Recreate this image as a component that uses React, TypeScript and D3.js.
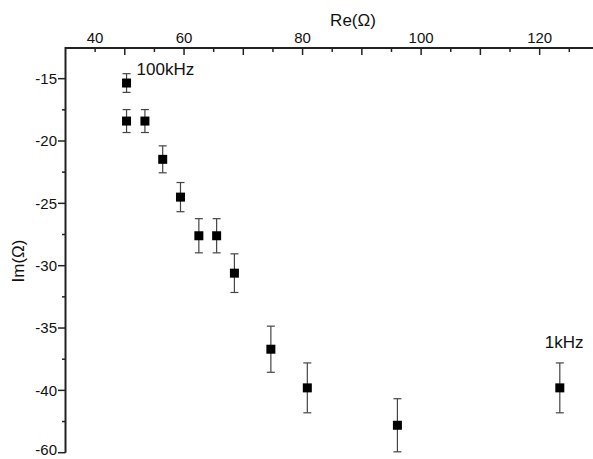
import React from "react";
import * as d3 from "d3";

const W = 593;
const H = 459;

// Data
const reValues = [50.3, 50.3, 53.4, 56.4, 59.4, 62.5, 65.5, 68.5, 74.65, 80.8, 96.0, 123.4];
const imValues = [-15.35, -18.4, -18.4, -21.47, -24.5, -27.6, -27.6, -30.6, -36.7, -39.8, -42.8, -39.8];
const imErrors = [0.75, 0.92, 0.92, 1.08, 1.17, 1.37, 1.37, 1.55, 1.85, 2.0, 2.13, 2.0];

// Tick labels as printed on the original figure
const xLabelValues = [45, 60, 80, 100, 120];
const xLabelTexts = ["40", "60", "80", "100", "120"];
const xMajorTicks = [50, 60, 70, 80, 90, 100, 110, 120];
const xMinorTicks = [45, 55, 65, 75, 85, 95, 105, 115, 125];
const yLabelValues = [-15, -20, -25, -30, -35, -40, -45];
const yLabelTexts = ["-15", "-20", "-25", "-30", "-35", "-40", "-60"];
const yMinorTicks = [-17.5, -22.5, -27.5, -32.5, -37.5, -42.5];

const FONT = "'Liberation Sans', Arial, sans-serif";

export default function App() {
  const x = d3.scaleLinear().domain([40, 129]).range([65.5, 593]);
  const y = d3.scaleLinear().domain([-45, -12.5]).range([452.7, 47.5]);
  const axisColor = "#222";
  const points = reValues.map((r, i) => ({ r, im: imValues[i], e: imErrors[i] }));
  const ms = 9;
  const cap = 4;
  const lastY = yLabelValues.length - 1;

  return (
    <svg
      width={W}
      height={H}
      style={{ position: "fixed", left: 0, top: 0, background: "#fff" }}
      fontFamily={FONT}
    >
      <rect width={W} height={H} fill="#fff" />
      {/* axis titles */}
      <text x={353} y={26} fontSize={17} textAnchor="middle" fill="#111">
        Re(Ω)
      </text>
      <text
        transform="translate(24,261) rotate(-90)"
        fontSize={17}
        textAnchor="middle"
        fill="#111"
      >
        Im(Ω)
      </text>

      {/* x axis (top) */}
      <line x1={x(40)} x2={W} y1={48} y2={48} stroke={axisColor} strokeWidth={2} />
      {xMajorTicks.map((t) => (
        <line key={"xM" + t} x1={x(t)} x2={x(t)} y1={48} y2={55} stroke={axisColor} strokeWidth={1.5} />
      ))}
      {xMinorTicks.map((t) => (
        <line key={"xm" + t} x1={x(t)} x2={x(t)} y1={48} y2={52} stroke={axisColor} strokeWidth={1.5} />
      ))}
      {xLabelValues.map((v, i) => (
        <text key={"xl" + v} x={x(v)} y={42.5} fontSize={15} textAnchor="middle" fill="#111">
          {xLabelTexts[i]}
        </text>
      ))}

      {/* y axis (left) */}
      <line x1={65.5} x2={65.5} y1={47} y2={y(-45)} stroke={axisColor} strokeWidth={2} />
      {yLabelValues.map((v, i) => (
        <g key={"yl" + v}>
          <line x1={58} x2={65.5} y1={y(v)} y2={y(v)} stroke={axisColor} strokeWidth={1.5} />
          <text
            x={57}
            y={i === lastY ? y(v) - 3 : y(v)}
            dy="0.35em"
            fontSize={15}
            textAnchor="end"
            fill="#111"
          >
            {yLabelTexts[i]}
          </text>
        </g>
      ))}
      {yMinorTicks.map((v) => (
        <line key={"ym" + v} x1={62} x2={65.5} y1={y(v)} y2={y(v)} stroke={axisColor} strokeWidth={1.5} />
      ))}

      {/* error bars */}
      {points.map((p, i) => (
        <g key={"e" + i} stroke="#444" strokeWidth={1.2}>
          <line x1={x(p.r)} x2={x(p.r)} y1={y(p.im + p.e)} y2={y(p.im - p.e)} />
          <line x1={x(p.r) - cap} x2={x(p.r) + cap} y1={y(p.im + p.e)} y2={y(p.im + p.e)} />
          <line x1={x(p.r) - cap} x2={x(p.r) + cap} y1={y(p.im - p.e)} y2={y(p.im - p.e)} />
        </g>
      ))}
      {/* markers */}
      {points.map((p, i) => (
        <rect key={"m" + i} x={x(p.r) - ms / 2} y={y(p.im) - ms / 2} width={ms} height={ms} fill="#000" />
      ))}

      {/* annotations */}
      <text x={x(reValues[0]) + 10} y={y(imValues[0]) - 8} fontSize={17} fill="#111">
        100kHz
      </text>
      <text x={x(reValues[11]) - 15} y={y(imValues[11]) - 40} fontSize={17} fill="#111">
        1kHz
      </text>
    </svg>
  );
}
